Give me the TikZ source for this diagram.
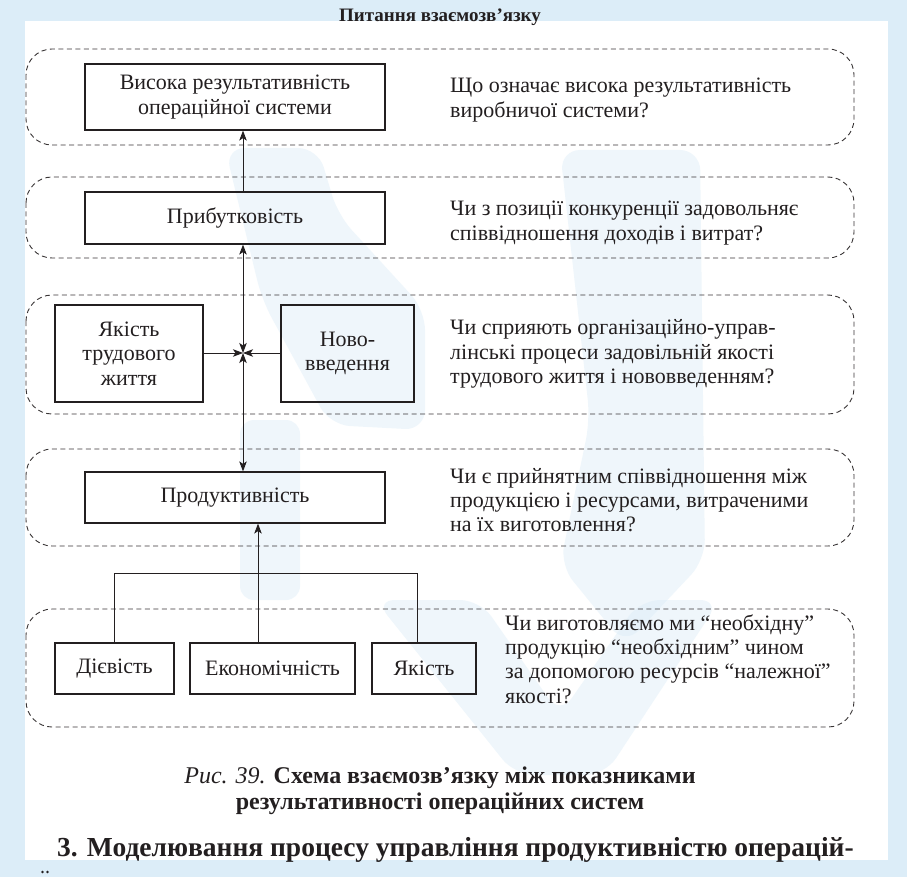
\documentclass[tikz,border=0pt]{standalone}
\usepackage{fontspec}
\setmainfont{Liberation Serif}
\usetikzlibrary{arrows.meta}

\definecolor{pageblue}{HTML}{DCEDF8}
\definecolor{ink}{HTML}{231F20}

\newcommand\bodyfont{\fontsize{22}{24.3}\selectfont}
\newcommand\titlefont{\fontsize{19}{22}\selectfont\bfseries}
\newcommand\capfont{\fontsize{24}{25.5}\selectfont}
\newcommand\headfont{\fontsize{27.5}{30}\selectfont\bfseries}

\begin{document}
\begin{tikzpicture}[x=1pt,y=-1pt,
  box/.style={draw=ink, line width=1.2pt, inner sep=0pt, align=center,
    font=\bodyfont, text=ink},
  group/.style={draw=ink!90, line width=0.9pt, dash pattern=on 5pt off 3.5pt,
    rounded corners=26pt},
  qtext/.style={anchor=west, align=left, font=\bodyfont, text=ink, inner sep=0pt},
  link/.style={draw=ink, line width=0.9pt},
  arr/.style={-{Stealth[length=10pt,width=7.5pt,inset=2.5pt]}},
  biarr/.style={{Stealth[length=10pt,width=7.5pt,inset=2.5pt]}-{Stealth[length=10pt,width=7.5pt,inset=2.5pt]}},
  wm/.style={fill=pageblue, fill opacity=0.45, draw=none}
]
\useasboundingbox (0,0) rectangle (907,877);

% page background and white panel
\fill[pageblue] (0,0) rectangle (907,877);
\fill[white] (25,21) rectangle (888,860);

% pale trident watermark
\path[wm, rounded corners=20pt] (225,148) -- (318,148) -- (338,215) -- (425,310)
  -- (425,430) -- (330,425) -- (262,300) -- cycle;
\path[wm, rounded corners=20pt] (560,150) -- (700,150) -- (705,560) -- (625,645)
  -- (560,565) -- (590,420) -- cycle;
\path[wm, rounded corners=14pt] (240,420) -- (300,420) -- (300,600) -- (240,600) -- cycle;
\path[wm, rounded corners=20pt] (375,600) -- (480,600) -- (560,715) -- (640,600)
  -- (720,600) -- (605,775) -- (515,775) -- cycle;

% title
\node[font=\titlefont, text=ink] (title) at (440,17) {Питання взаємозв’язку};

% dashed groups
\draw[group] (26,49) rectangle (854,145);
\draw[group] (26,177) rectangle (854,258);
\draw[group] (26,295) rectangle (854,414);
\draw[group] (26,449) rectangle (854,546);
\draw[group] (26,609) rectangle (854,727);

% boxes
\node[box, minimum width=300pt, minimum height=66pt] (A) at (235,97)
  {Висока результативність\\операційної системи};
\node[box, minimum width=300pt, minimum height=52pt] (B) at (235,218) {Прибутковість};
\node[box, minimum width=148pt, minimum height=97pt] (C) at (129,353.5)
  {Якість\\трудового\\життя};
\node[box, minimum width=133pt, minimum height=97pt] (D) at (347.5,353.5)
  {Ново-\\введення};
\node[box, minimum width=300pt, minimum height=51pt] (E) at (235,497.5) {Продуктивність};
\node[box, minimum width=119pt, minimum height=51pt] (F) at (114.5,668.5) {Дієвість};
\node[box, minimum width=165pt, minimum height=51pt] (G) at (272.5,668.5) {Економічність};
\node[box, minimum width=104pt, minimum height=51pt] (H) at (424,668.5) {Якість};

% questions
\node[qtext] (q1) at (450,100) {Що означає висока результативність\\виробничої системи?};
\node[qtext] (q2) at (450,223) {Чи з позиції конкуренції задовольняє\\співвідношення доходів і витрат?};
\node[qtext] (q3) at (450,354) {Чи сприяють організаційно-управ-\\лінські процеси задовільній якості\\трудового життя і нововведенням?};
\node[qtext] (q4) at (450,500) {Чи є прийнятним співвідношення між\\продукцією і ресурсами, витраченими\\на їх виготовлення?};
\node[qtext] (q5) at (505,659) {Чи виготовляємо ми “необхідну”\\продукцію “необхідним” чином\\за допомогою ресурсів “належної”\\якості?};

% connectors
\coordinate (hub) at (243,353);
\coordinate (jl) at (114.5,573);
\coordinate (jm) at (258,573);
\coordinate (jr) at (417,573);

\draw[link,arr] (B.north -| hub) -- (A.south -| hub);
\draw[link,biarr] (hub) -- (B.south -| hub);
\draw[link,biarr] (hub) -- (E.north -| hub);
\draw[link,arr] (C.east |- hub) -- (hub);
\draw[link,arr] (D.west |- hub) -- (hub);
\draw[link] (F.north) -- (jl) -- (jr) -- (H.north -| jr);
\draw[link,arr] (G.north -| jm) -- (E.south -| jm);

% caption
\node[font=\capfont, text=ink, align=center] (cap) at (440,791)
  {\textit{Рис. 39.} \textbf{Схема взаємозв’язку між показниками}\\
   \textbf{результативності операційних систем}};

% section heading
\node[font=\headfont, text=ink, anchor=base west, inner sep=0pt] (head) at (57,856)
  {3. Моделювання процесу управління продуктивністю операцій-};
\fill[ink] (42.5,872) circle (1.3) (47.5,872) circle (1.3);
\end{tikzpicture}
\end{document}
